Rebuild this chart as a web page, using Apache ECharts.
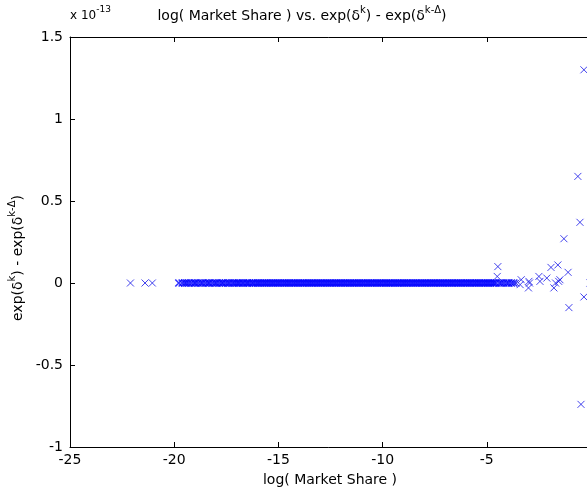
<!DOCTYPE html>
<html><head><meta charset="utf-8">
<script src="https://cdn.jsdelivr.net/npm/echarts@6/dist/echarts.min.js"></script>
<style>html,body{margin:0;padding:0;background:#fff}#c{width:587px;height:493px}</style>
</head><body><div id="c"></div>
<script>
// x: log(Market Share); y: exp(d^k)-exp(d^(k-D)) in units of 1e-13
const bandLogShare = [
  -19.78, -19.62, -19.5, -19.41, -19.3, -19.18, -19.05, -18.97, -18.85, -18.72, -18.63, -18.5, -18.38, -18.3,
  -18.17, -18.05, -17.96, -17.84, -17.72, -17.65, -17.53, -17.42, -17.33, -17.21, -17.12, -17.02, -16.93, -16.85,
  -16.74, -16.66, -16.55, -16.47, -16.38, -16.27, -16.2, -16.1, -16.01, -15.93, -15.84, -15.75, -15.66, -15.58,
  -15.49, -15.4, -15.31, -15.23, -15.14, -15.05, -14.97, -14.88, -14.79, -14.7, -14.62, -14.53, -14.45, -14.36,
  -14.27, -14.19, -14.1, -14.02, -13.93, -13.84, -13.76, -13.67, -13.58, -13.5, -13.41, -13.33, -13.24, -13.15,
  -13.07, -12.98, -12.9, -12.81, -12.72, -12.64, -12.55, -12.47, -12.38, -12.29, -12.21, -12.12, -12.03, -11.95,
  -11.86, -11.78, -11.69, -11.6, -11.52, -11.43, -11.35, -11.26, -11.17, -11.09, -11.0, -10.92, -10.83, -10.74,
  -10.66, -10.57, -10.49, -10.4, -10.31, -10.23, -10.14, -10.06, -9.97, -9.88, -9.8, -9.71, -9.63, -9.54, -9.45,
  -9.37, -9.28, -9.2, -9.11, -9.02, -8.94, -8.85, -8.77, -8.68, -8.59, -8.51, -8.42, -8.34, -8.25, -8.16, -8.08,
  -7.99, -7.91, -7.82, -7.73, -7.65, -7.56, -7.48, -7.39, -7.3, -7.22, -7.13, -7.05, -6.96, -6.87, -6.79, -6.7,
  -6.62, -6.53, -6.44, -6.36, -6.27, -6.19, -6.1, -6.01, -5.93, -5.84, -5.76, -5.67, -5.58, -5.5, -5.41, -5.33,
  -5.24, -5.15, -5.07, -4.98, -4.9, -4.81, -4.72, -4.64, -4.55, -4.4, -4.3, -4.18, -4.05, -3.95, -3.82, -3.7];
const bandDiff = bandLogShare.map(() => 0);
const outLogShare = [-22.1, -21.4, -21.05, -4.47, -4.5, -3.6, -3.4, -3.35, -3.0, -2.98, -2.95, -2.5, -2.45, -2.12,
  -1.92, -1.78, -1.7, -1.59, -1.55, -1.49, -1.1, -1.3, -0.63, -0.53, -0.34, -0.34, -0.05, -1.06, -0.48];
const outDiff = [0, 0, 0, 0.10, 0.04, 0.0, -0.01, 0.02, -0.03, 0.01, 0.0, 0.04, 0.01, 0.03,
  0.095, -0.03, 0.0, 0.11, 0.01, 0.02, 0.065, 0.27, 0.65, 0.37, 1.30, -0.085, 0.0, -0.15, -0.74];
const xTicks = [-25, -20, -15, -10, -5, 0];
const yTicks = [-1, -0.5, 0, 0.5, 1, 1.5];

const bandPts = bandLogShare.map((x, i) => [x, bandDiff[i]]);
const outPts = outLogShare.map((x, i) => [x, outDiff[i]]);

const F = 'DejaVu Sans, Verdana, sans-serif';
const chart = echarts.init(document.getElementById('c'));
const axCommon = {
  axisLine: {show: true, onZero: false, lineStyle: {color: '#000', width: 1}},
  axisTick: {show: true, inside: true, length: 5, lineStyle: {color: '#000'}},
  splitLine: {show: false}
};
const rich = (n, s) => ({
  n: {fontSize: n, fontFamily: F, fill: '#000', padding: [7, 0, 0, 0]},
  s: {fontSize: s, fontFamily: F, fill: '#000', padding: [0, 0, 5, 0]}
});
const cross = 'path://M0,0L10,10M10,0L0,10';
chart.setOption({
  animation: false,
  backgroundColor: '#fff',
  grid: {left: 70, top: 37, right: -4, bottom: 46, outerBoundsMode: 'none', containLabel: false},
  xAxis: [
    Object.assign({type: 'value', min: -25, max: 0, interval: 5, position: 'bottom',
      axisLabel: {color: '#000', fontFamily: F, fontSize: 14, margin: 6, showMaxLabel: true, hideOverlap: false,
        formatter: v => String(xTicks.find(t => t === v))}}, axCommon),
    Object.assign({type: 'value', min: -25, max: 0, interval: 5, position: 'top',
      axisLabel: {show: false}}, axCommon)
  ],
  yAxis: [
    Object.assign({type: 'value', min: -1, max: 1.5, interval: 0.5, position: 'left',
      axisLabel: {color: '#000', fontFamily: F, fontSize: 14, margin: 7,
        formatter: v => String(yTicks.find(t => t === v))}}, axCommon)
  ],
  series: [{
    type: 'scatter',
    data: bandPts,
    symbol: cross,
    symbolSize: 7,
    itemStyle: {color: 'none', borderColor: '#0000ff', borderWidth: 1.6},
    emphasis: {disabled: true}
  }, {
    type: 'scatter',
    data: outPts,
    symbol: cross,
    symbolSize: 7,
    itemStyle: {color: 'none', borderColor: '#1515e8', borderWidth: 1},
    emphasis: {disabled: true}
  }],
  graphic: [
    {type: 'text', x: 302, y: 2, style: {
      text: '{n|log( Market Share ) vs. exp(δ}{s|k}{n|) - exp(δ}{s|k-Δ}{n|)}',
      align: 'center', rich: rich(14, 10)}},
    {type: 'text', x: 70, y: 3, style: {
      text: '{n|x 10}{s|-13}', rich: rich(12, 9)}},
    {type: 'text', x: 330, y: 480, style: {
      text: 'log( Market Share )', font: '14px ' + F, fill: '#000', align: 'center', verticalAlign: 'middle'}},
    {type: 'text', x: 4, y: 258, rotation: Math.PI / 2, style: {
      text: '{n|exp(δ}{s|k}{n|) - exp(δ}{s|k-Δ}{n|)}', align: 'center',
      rich: rich(14, 10)}}
  ]
});
</script></body></html>
